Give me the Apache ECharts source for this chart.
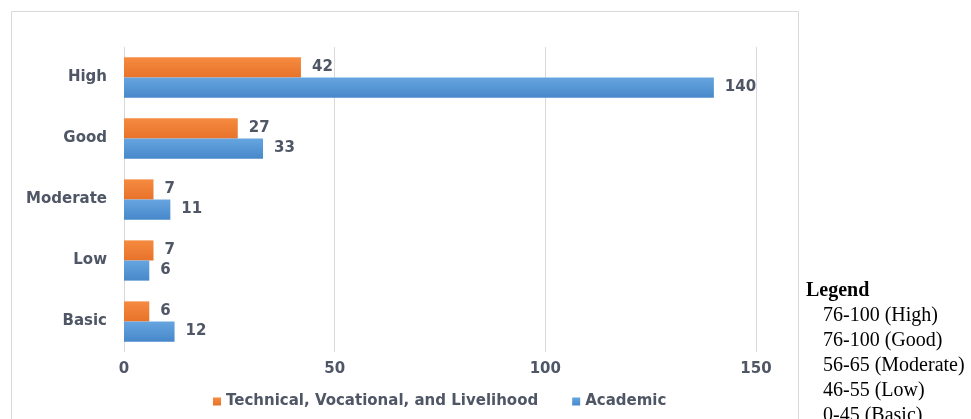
<!DOCTYPE html>
<html>
<head>
<meta charset="utf-8">
<script src="https://cdn.jsdelivr.net/npm/echarts@6/dist/echarts.min.js"></script>
<style>
  html, body { margin: 0; padding: 0; background: #fff; }
  #chart { width: 971px; height: 419px; }
</style>
</head>
<body>
<div id="chart"></div>
<script>
// data
const categories = ['High', 'Good', 'Moderate', 'Low', 'Basic']
const technical = [42, 27, 7, 7, 6]
const academic = [140, 33, 11, 6, 12]
const seriesNames = ['Technical, Vocational, and Livelihood', 'Academic']
const legendTitle = 'Legend'
const legendLines = ['76-100 (High)', '76-100 (Good)', '56-65 (Moderate)', '46-55 (Low)', '0-45 (Basic)']

const chart = echarts.init(document.getElementById('chart'))

const labelColor = '#4f5665'
const sans = 'DejaVu Sans, Arial, sans-serif'
const serif = 'Liberation Serif, Times New Roman, serif'

// side legend as plain text blocks
const sideText = [{
  type: 'text',
  left: 806,
  top: 281,
  style: { text: legendTitle, font: 'bold 20px ' + serif, fill: '#000' }
}]
legendLines.forEach((t, i) => {
  sideText.push({
    type: 'text',
    left: 823,
    top: 306 + i * 25,
    style: { text: t, font: '20px ' + serif, fill: '#000' }
  })
})

const valueLabel = { show: true, position: 'right', distance: 11, color: labelColor, fontSize: 15, fontWeight: 'bold', fontFamily: sans }

chart.setOption({
  animation: false,
  grid: { left: 124, right: 215, top: 47, height: 305, containLabel: false },
  legend: {
    data: seriesNames,
    left: 208,
    top: 389,
    itemWidth: 8,
    itemHeight: 8,
    itemGap: 34,
    icon: 'rect',
    textStyle: { color: labelColor, fontSize: 15, fontWeight: 'bold', fontFamily: sans }
  },
  xAxis: {
    type: 'value',
    min: 0,
    max: 150,
    interval: 50,
    axisLine: { show: false },
    axisTick: { show: false },
    axisLabel: { color: labelColor, fontSize: 15, fontWeight: 'bold', fontFamily: sans, margin: 10 },
    splitLine: { lineStyle: { color: '#d9d9d9', width: 1 } }
  },
  yAxis: {
    type: 'category',
    data: categories,
    inverse: true,
    axisLine: { show: false },
    axisTick: { show: false },
    axisLabel: { color: labelColor, fontSize: 15, fontWeight: 'bold', fontFamily: sans, margin: 17 }
  },
  series: [
    {
      name: seriesNames[0],
      type: 'bar',
      data: technical,
      barGap: '0%',
      barCategoryGap: '34%',
      itemStyle: {
        color: new echarts.graphic.LinearGradient(0, 0, 0, 1, [
          { offset: 0, color: '#F58B40' },
          { offset: 1, color: '#E8722A' }
        ])
      },
      label: valueLabel
    },
    {
      name: seriesNames[1],
      type: 'bar',
      data: academic,
      itemStyle: {
        color: new echarts.graphic.LinearGradient(0, 0, 0, 1, [
          { offset: 0, color: '#66A5E0' },
          { offset: 1, color: '#4788CA' }
        ])
      },
      label: valueLabel
    }
  ],
  graphic: [
    {
      type: 'rect',
      shape: { x: 11.5, y: 11.5, width: 787, height: 430 },
      style: { fill: 'none', stroke: '#d9d9d9', lineWidth: 1 },
      silent: true
    }
  ].concat(sideText)
})

window.addEventListener('resize', () => chart.resize())
</script>
</body>
</html>
